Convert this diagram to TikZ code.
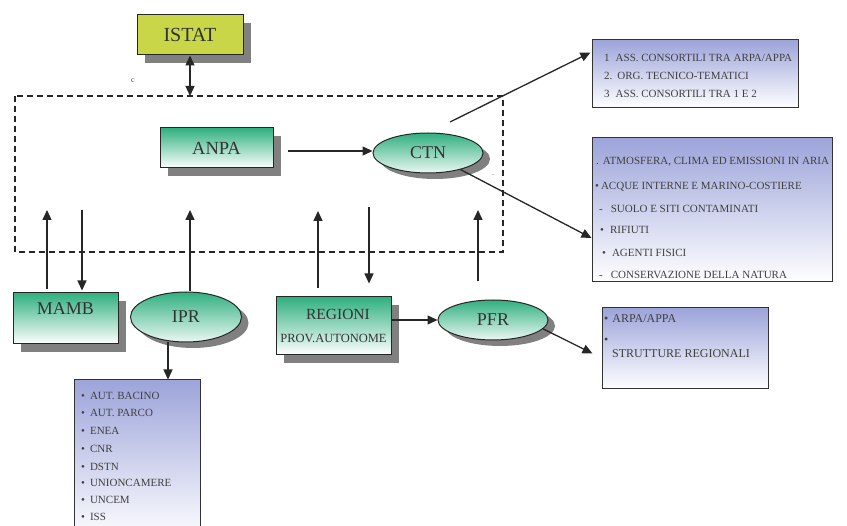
\documentclass[tikz,border=0pt]{standalone}
\usepackage{fontspec}
\setmainfont{Liberation Serif}
\usetikzlibrary{arrows.meta,shapes.geometric,shadows,calc}
\definecolor{ink}{HTML}{333333}
\definecolor{istatfill}{RGB}{200,214,72}
\definecolor{tealgreen}{RGB}{48,176,128}
\definecolor{lav}{RGB}{156,164,218}
\definecolor{shadegray}{RGB}{128,128,128}

\tikzset{
  boxshadow/.style={drop shadow={shadow xshift=8pt,shadow yshift=-8pt,fill=shadegray,opacity=1}},
  ovalshadow/.style={drop shadow={shadow xshift=7pt,shadow yshift=-6pt,fill=shadegray,opacity=1}},
  bigfont/.style={font=\fontsize{18}{18}\selectfont},
  greenbox/.style={rectangle,draw=black!85,line width=1pt,top color=tealgreen,bottom color=white,
    boxshadow,text=ink,inner sep=0pt,bigfont},
  greenoval/.style={ellipse,draw=black!85,line width=1pt,top color=tealgreen,bottom color=white!90!tealgreen,
    ovalshadow,text=ink,inner sep=0pt,bigfont},
  lavbox/.style={rectangle,draw=black!80,line width=1pt,top color=lav,bottom color=white,inner sep=0pt},
  itemtext/.style={anchor=west,inner sep=0pt,text=black!75,font=\fontsize{11}{11}\selectfont},
  bigitem/.style={itemtext,font=\fontsize{12}{12}\selectfont},
  arr/.style={-{Triangle[length=10pt,width=9pt]},line width=1.3pt,draw=black!85},
  twoway/.style={{Triangle[length=10pt,width=9pt]}-{Triangle[length=10pt,width=9pt]},line width=1.3pt,draw=black!85},
  frame/.style={draw=black!85,line width=1.5pt,dash pattern=on 6pt off 4pt}
}

\begin{document}
\begin{tikzpicture}[x=1pt,y=-1pt]
\useasboundingbox[fill=white] (0,0) rectangle (847,526);

% dashed frame of the national system
\coordinate (fnw) at (15,96);
\coordinate (fse) at (503,252);
\draw[frame] (fnw) rectangle (fse);

% main nodes
\node[rectangle,draw=black!85,line width=1pt,fill=istatfill,text=ink,
      drop shadow={shadow xshift=8pt,shadow yshift=-8pt,fill=shadegray,opacity=1},
      minimum width=106pt,minimum height=40pt,inner sep=0pt,font=\fontsize{20}{20}\selectfont]
      (istat) at (190,35) {ISTAT};
\node[greenbox,minimum width=113pt,minimum height=40pt,font=\fontsize{18.5}{19}\selectfont] (anpa) at (216.5,148) {ANPA};
\node[greenoval,minimum width=110pt,minimum height=40pt] (ctn) at (428,153) {CTN};
\node[greenbox,minimum width=105pt,minimum height=51pt,text depth=20pt] (mamb) at (65.5,318.5) {MAMB};
\node[greenoval,minimum width=111pt,minimum height=50pt] (ipr) at (186,317) {IPR};
\node[greenbox,minimum width=115pt,minimum height=58pt,align=center] (regioni) at (333.5,326)
  {\fontsize{15.5}{15.5}\selectfont\hspace*{9pt}REGIONI\\[5pt]\fontsize{12.5}{12.5}\selectfont PROV.AUTONOME};
\node[greenoval,minimum width=110pt,minimum height=40pt] (pfr) at (493,320) {PFR};

% list boxes
\node[lavbox,minimum width=206pt,minimum height=68pt] (consorzi) at (695,74) {};
\node[lavbox,minimum width=240pt,minimum height=144pt] (temi) at (712,210) {};
\node[lavbox,minimum width=166pt,minimum height=81pt] (regstr) at (685,348.5) {};
\node[lavbox,minimum width=126pt,minimum height=160pt] (enti) at (137.5,460) {};

% list texts
\node[itemtext] (c1) at (604,58) {1\hspace{6pt}ASS. CONSORTILI TRA ARPA/APPA};
\node[itemtext] (c2) at (604,76) {2.\hspace{5pt}ORG. TECNICO-TEMATICI};
\node[itemtext] (c3) at (604,94) {3\hspace{6pt}ASS. CONSORTILI TRA 1 E 2};

\node[itemtext] (t1) at (596,162) {.\hspace{4pt}ATMOSFERA, CLIMA ED EMISSIONI IN ARIA};
\node[itemtext] (t2) at (595,187) {\textbullet\hspace{2pt}ACQUE INTERNE E MARINO-COSTIERE};
\node[itemtext] (t3) at (599,209) {-\hspace{8pt}SUOLO E SITI CONTAMINATI};
\node[itemtext] (t4) at (600,230) {\textbullet\hspace{6pt}RIFIUTI};
\node[itemtext] (t5) at (602,253) {\textbullet\hspace{6pt}AGENTI FISICI};
\node[itemtext] (t6) at (599,275) {-\hspace{8pt}CONSERVAZIONE DELLA NATURA};

\node[bigitem] (r1) at (604,319) {\textbullet\hspace{4pt}ARPA/APPA};
\node[bigitem] (r2) at (604,341) {\textbullet};
\node[bigitem] (r3) at (612,354) {STRUTTURE REGIONALI};

\foreach \y/\t [count=\i] in {396/AUT. BACINO,413/AUT. PARCO,431/ENEA,449/CNR,467/DSTN,
                              483/UNIONCAMERE,500/UNCEM,517/ISS}
  \node[itemtext] (e\i) at (81,\y) {\textbullet\hspace{5pt}\t};

% small marks
\node[inner sep=0pt,text=black!70,font=\fontsize{8}{8}\selectfont] (cmark) at (133,81) {c};
\node[inner sep=0pt,text=black!70,font=\fontsize{8}{8}\selectfont] (dotmark) at (493,175) {.};

% connectors
\coordinate (ftop) at (190,96);
\draw[twoway] (istat.south -| ftop) -- (ftop);

\draw[arr] ($(anpa.east)+(14,3)$) -- ($(ctn.west)+(0,-2)$);
\coordinate (ctnA) at (450,122);
\draw[arr] (ctnA) -- ($(consorzi.north west)+(-1,13)$);
\draw[arr] (ctn.-27) -- ($(temi.west)+(0,28)$);

\coordinate (v1) at (47,210);
\coordinate (v2) at (82,210);
\coordinate (v3) at (190,210);
\coordinate (v4) at (318,211);
\coordinate (v5) at (369,207);
\coordinate (v6) at (478,210);
\draw[arr] ($(mamb.north -| v1)+(0,-3)$) -- (v1);
\draw[arr] (v2) -- ($(mamb.north -| v2)+(0,-2)$);
\draw[arr] (ipr.north -| v3) -- (v3);
\draw[arr] ($(regioni.north -| v4)+(0,-8)$) -- (v4);
\draw[arr] (v5) -- ($(regioni.north -| v5)+(0,-13)$);
\draw[arr] ($(pfr.north -| v6)+(0,-18)$) -- (v6);

\coordinate (b4x) at (168,0);
\draw[arr] (ipr.south -| b4x) -- (enti.north -| b4x);
\draw[arr] (pfr.west -| regioni.east) -- (pfr.west);
\draw[arr] (pfr.-10) -- ($(regstr.west)+(-9,5)$);
\end{tikzpicture}
\end{document}
